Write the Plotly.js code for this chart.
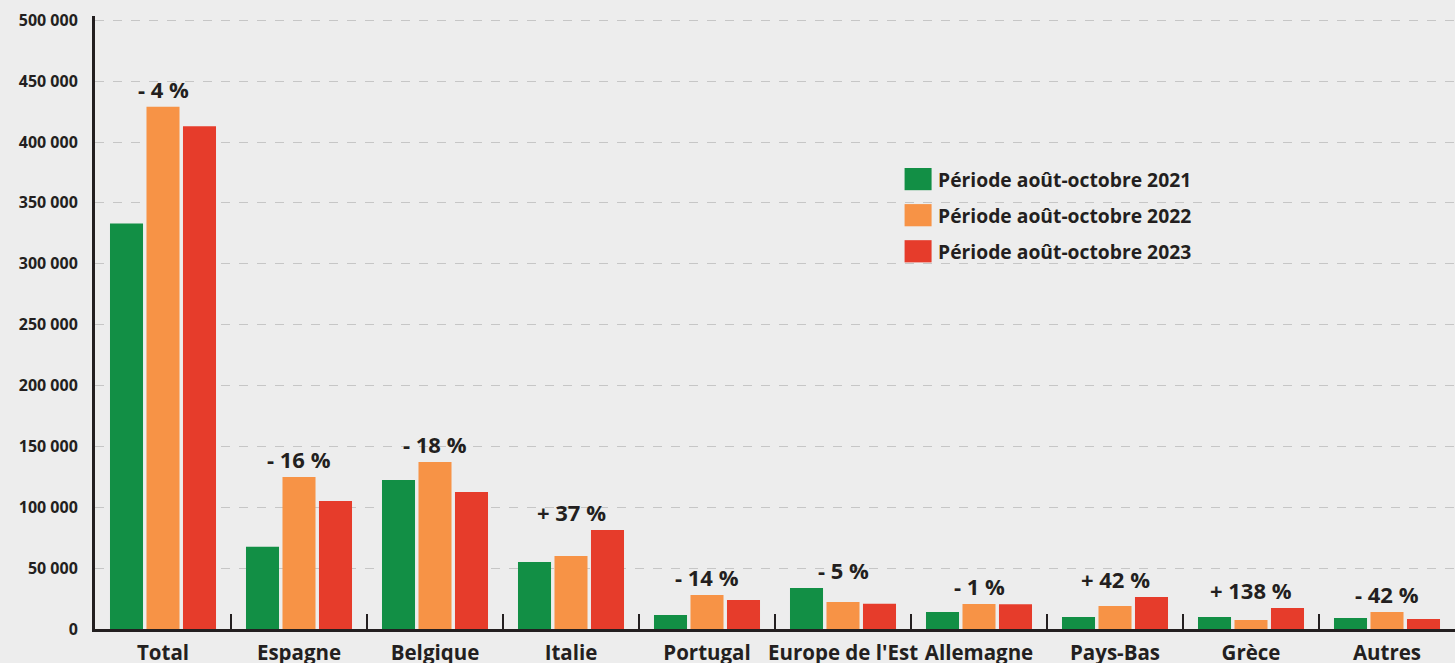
<!DOCTYPE html>
<html>
<head>
<meta charset="utf-8">
<script src="https://cdn.plot.ly/plotly-3.0.1.min.js"></script>
<style>
html,body{margin:0;padding:0;background:#ededed;}
#chart{width:1455px;height:663px;}
</style>
</head>
<body>
<div id="chart"></div>
<script>
const categories = ["Total","Espagne","Belgique","Italie","Portugal","Europe de l'Est","Allemagne","Pays-Bas","Grèce","Autres"];
const values2021 = [333000, 67500, 122300, 55000, 11500, 33700, 14000, 9900, 9900, 9000];
const values2022 = [429000, 124800, 137100, 59900, 27900, 22200, 20500, 18900, 7400, 14000];
const values2023 = [413000, 105100, 112500, 81300, 23800, 20700, 20300, 26300, 17200, 8200];
const pctLabels = ["- 4 %","- 16 %","- 18 %","+ 37 %","- 14 %","- 5 %","- 1 %","+ 42 %","+ 138 %","- 42 %"];
const seriesNames = ["Période août-octobre 2021","Période août-octobre 2022","Période août-octobre 2023"];
const yTickVals = [0,50000,100000,150000,200000,250000,300000,350000,400000,450000,500000];
const yTickText = ["0","50 000","100 000","150 000","200 000","250 000","300 000","350 000","400 000","450 000","500 000"];

const colors = ["#128f45","#f79346","#e63c2b"];
const textColor = "#231f20";
const FONT = "Open Sans, Noto Sans, sans-serif";
const allSeries = [values2021, values2022, values2023];

const traces = allSeries.map((vals, k) => ({
  type: "bar",
  name: seriesNames[k],
  x: categories,
  y: vals,
  marker: {color: colors[k], line: {width: 0}},
  legendgroup: "g" + k,
  hoverinfo: "x+y+name"
}));

const annotations = categories.map((c, i) => ({
  x: c,
  y: Math.max(values2021[i], values2022[i], values2023[i]),
  xref: "x", yref: "y",
  text: pctLabels[i],
  showarrow: false,
  yanchor: "bottom",
  yshift: 1,
  font: {family: FONT, size: 22, color: textColor, weight: 700}
}));

const layout = {
  width: 1455, height: 663,
  margin: {l: 95, r: 0, t: 16, b: 34},
  paper_bgcolor: "#ededed",
  plot_bgcolor: "#ededed",
  barmode: "group",
  bargap: 0.195,
  bargroupgap: 0.095,
  showlegend: true,
  legend: {
    x: 0.5905, y: 0.765, xanchor: "left", yanchor: "top",
    bgcolor: "rgba(0,0,0,0)", borderwidth: 0,
    traceorder: "grouped", tracegroupgap: 8,
    itemclick: false,
    font: {family: FONT, size: 19.3, color: textColor, weight: 700}
  },
  xaxis: {
    type: "category",
    showgrid: false,
    zeroline: false,
    showline: true, linecolor: textColor, linewidth: 3,
    ticks: "inside", tickson: "boundaries", ticklen: 15, tickwidth: 2, tickcolor: textColor,
    tickangle: 0,
    tickfont: {family: FONT, size: 20.5, color: textColor, weight: 700},
    ticklabelstandoff: 3
  },
  yaxis: {
    range: [0, 503500],
    tickvals: yTickVals,
    ticktext: yTickText,
    showgrid: true, gridcolor: "#c6c6c6", gridwidth: 1, griddash: "dash",
    zeroline: false,
    showline: true, linecolor: textColor, linewidth: 3,
    ticks: "",
    ticklabelstandoff: 11,
    tickfont: {family: FONT, size: 16, color: textColor, weight: 700}
  },
  annotations: annotations
};

Plotly.newPlot("chart", traces, layout, {displayModeBar: false, staticPlot: true}).then(gd => {
  gd.querySelectorAll(".legend .legendpoints path").forEach(p => {
    const t = p.getAttribute("transform") || "";
    p.setAttribute("transform", t + " scale(2.25,1.85)");
  });
});
</script>
</body>
</html>
